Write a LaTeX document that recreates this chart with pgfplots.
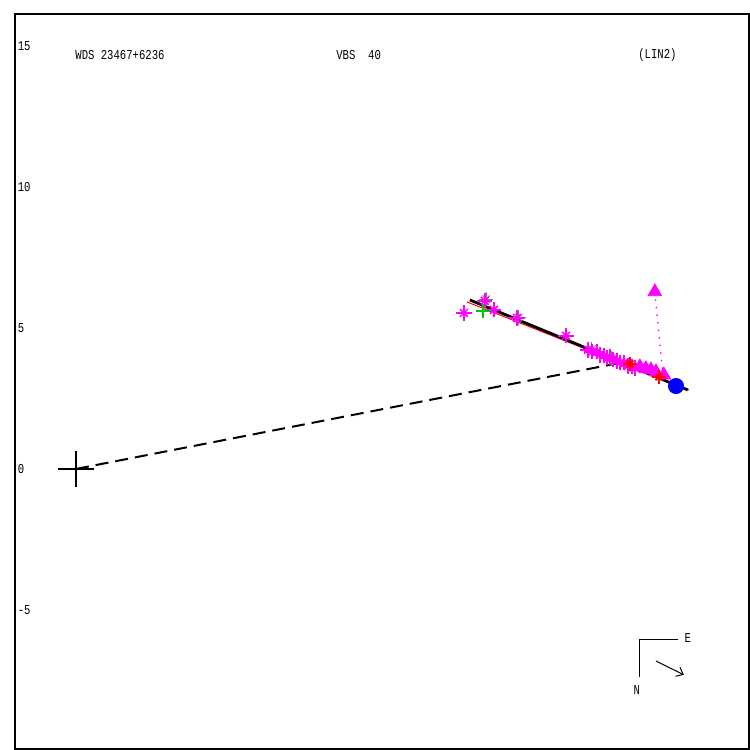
\documentclass[border=0pt]{standalone}
\usepackage{pgfplots}
\pgfplotsset{compat=1.18}
\usetikzlibrary{arrows.meta}
\usepackage{fontspec}
\setmainfont{Liberation Sans}
\newfontfamily\pixfont[FakeStretch=0.78]{Liberation Mono}
\definecolor{mag}{RGB}{255,0,255}
\definecolor{grn}{RGB}{0,200,0}
\definecolor{blu}{RGB}{0,0,255}
\begin{document}
\begin{tikzpicture}
\begin{axis}[
  scale only axis,
  width=367pt, height=367.5pt,
  xmin=-2.163, xmax=23.87,
  ymin=-9.93, ymax=16.13,
  axis line style={line width=0.6pt},
  xtick=\empty,
  ytick={-5,0,5,10,15},
  major tick length=0pt,
  yticklabel style={anchor=west, inner sep=0pt, xshift=1.2pt, font=\pixfont\fontsize{6.8}{7}\selectfont},
  /pgf/number format/assume math mode=true,
  clip=false,
]
% dashed line of apsides
\addplot[black, line width=1pt, dash pattern=on 6.5pt off 3.5pt] coordinates {(0,0) (19.29,3.76)};
% orbit lines
\addplot[red, line width=0.5pt] coordinates {(13.87,5.92) (21.74,2.80)};
% dotted O-C
\addplot[mag, line width=0.7pt, dash pattern=on 0.7pt off 3.1pt] coordinates {(20.53,6.28) (20.82,3.30)};
% grey asterisks (underneath)
\pgfplotstableread{
x y
14.55 6.02
15.70 5.37
18.30 4.25
19.01 3.93
}\greytab
\addplot[gray, only marks, mark=+, mark size=3.6pt, line width=0.5pt] table {\greytab};
\addplot[gray, only marks, mark=x, mark size=2.6pt, line width=0.5pt] table {\greytab};
% magenta asterisks
\pgfplotstableread{
x y
13.76 5.53
14.50 5.96
14.82 5.64
15.64 5.35
17.38 4.72
18.16 4.22
18.30 4.15
18.48 4.15
18.58 4.04
18.72 4.01
18.83 3.94
18.94 3.97
19.04 3.87
19.18 3.83
19.29 3.76
19.43 3.76
19.57 3.65
19.72 3.62
19.82 3.58
}\magtab
\addplot[mag, only marks, mark=+, mark size=3.8pt, line width=0.75pt] table {\magtab};
\addplot[mag, only marks, mark=x, mark size=2.75pt, line width=0.75pt] table {\magtab};
% green plus
\addplot[grn, only marks, mark=+, mark size=3.4pt, line width=0.8pt] coordinates {(14.43,5.60)};
% magenta triangles
\addplot[mag, only marks, mark=triangle*, mark size=3.9pt, mark options={fill=mag, draw=mag}] coordinates {
(20.00,3.62) (20.21,3.55) (20.39,3.51) (20.57,3.44) (20.85,3.33) (20.53,6.28)};
% red asterisks
\addplot[red, only marks, mark=+, mark size=3.4pt, line width=0.9pt] coordinates {(19.65,3.72) (20.67,3.26)};
\addplot[red, only marks, mark=x, mark size=2.4pt, line width=0.9pt] coordinates {(19.65,3.72) (20.67,3.26)};
% black orbit
\addplot[black, line width=1.4pt] coordinates {(13.97,5.99) (21.70,2.80)};
% blue dot
\addplot[blu, only marks, mark=*, mark size=3.8pt, mark options={fill=blu, draw=blu}] coordinates {(21.28,2.94)};
% origin cross
\addplot[black, only marks, mark=+, mark size=9pt, line width=1pt] coordinates {(0,0)};
% titles
\node[anchor=west, inner sep=0pt, font=\pixfont\fontsize{6.8}{7}\selectfont] at (axis cs:-0.035,14.68) {WDS 23467+6236};
\node[anchor=west, inner sep=0pt, font=\pixfont\fontsize{6.8}{7}\selectfont] at (axis cs:9.22,14.68) {VBS\ \ 40};
\node[anchor=west, inner sep=0pt, font=\pixfont\fontsize{6.8}{7}\selectfont] at (axis cs:19.93,14.68) {(LIN2)};
% compass
\draw[black, line width=0.5pt] (axis cs:21.35,-6.03) -- (axis cs:20.0,-6.03) -- (axis cs:20.0,-7.38);
\node[font=\pixfont\fontsize{6.8}{7}\selectfont, inner sep=0pt] at (axis cs:21.70,-5.99) {E};
\node[font=\pixfont\fontsize{6.8}{7}\selectfont, inner sep=0pt] at (axis cs:19.89,-7.84) {N};
\draw[black, line width=0.5pt, -{Straight Barb[length=3pt,width=5pt]}] (axis cs:20.57,-6.81) -- (axis cs:21.56,-7.30);
\end{axis}
\path[use as bounding box] ([xshift=-7.5pt]current axis.south west) ++(0,-0.5pt) rectangle ([xshift=0.5pt,yshift=7pt]current axis.north east);
\end{tikzpicture}
\end{document}
